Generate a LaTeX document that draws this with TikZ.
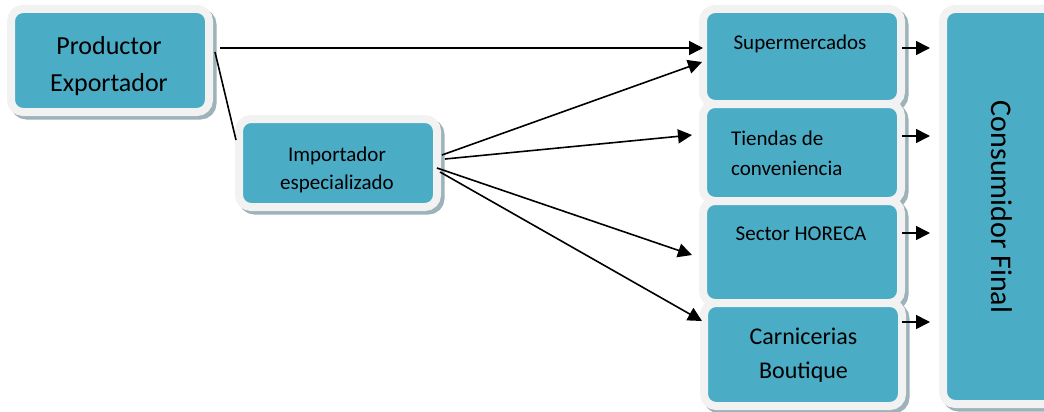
\documentclass[tikz,border=0pt]{standalone}
\usepackage{fontspec}
\setmainfont{Carlito}
\usetikzlibrary{arrows.meta}
\definecolor{teal}{HTML}{4BACC6}
\definecolor{rim}{HTML}{F2F2F2}
\definecolor{shade}{HTML}{9DB2B9}
\tikzset{
  box/.style={draw=rim, line width=8pt, fill=teal, rounded corners=12pt,
    preaction={draw=shade, fill=shade, line width=8pt, transform canvas={xshift=3.5pt,yshift=-3.5pt}}},
  conn/.style={line width=1.6pt, -{Triangle[length=14pt,width=14pt]}},
  plain/.style={line width=1.6pt},
  txt/.style={inner sep=0pt, text=black}
}
\begin{document}
\begin{tikzpicture}[x=1pt,y=-1pt]
\useasboundingbox (0,0) rectangle (1044,412);
\clip (0,0) rectangle (1044,412);
% boxes
\path[box] (11,9) rectangle (209,112);
\path[box] (239,119) rectangle (437,207);
\path[box] (943,9) rectangle (1070,404);
\path[box] (703,9) rectangle (901,104);
\path[box] (703,104) rectangle (901,201);
\path[box] (703,201) rectangle (901,303);
\path[box] (704,303) rectangle (902,406);
% text
\node[txt, align=center, font=\fontsize{26}{37}\selectfont] (prod) at (109,66) {Productor\\Exportador};
\node[txt, align=center, font=\fontsize{21}{28}\selectfont] (imp) at (337,170) {Importador\\especializado};
\node[txt, anchor=base, font=\fontsize{21}{27}\selectfont] (sup) at (800,49) {Supermercados};
\node[txt, anchor=west, align=left, font=\fontsize{21}{30}\selectfont] (tie) at (731,153) {Tiendas de\\conveniencia};
\node[txt, anchor=base, font=\fontsize{21}{27}\selectfont] (hor) at (801,240) {Sector HORECA};
\node[txt, align=center, font=\fontsize{24}{34}\selectfont] (car) at (803.5,355) {Carnicerias\\Boutique};
\node[txt, rotate=-90, font=\fontsize{30}{36}\selectfont] (con) at (1002,207) {Consumidor Final};
% connector end points
\coordinate (p1) at (220,48);
\coordinate (p2) at (215,52);
\coordinate (i0) at (236,140);
\coordinate (s1) at (703,48);
\coordinate (i1) at (442,155);
\coordinate (i2) at (445,159);
\coordinate (i3) at (437,168);
\coordinate (i4) at (440,172);
\coordinate (s2) at (702,62);
\coordinate (t1) at (692,135);
\coordinate (h1) at (692,255);
\coordinate (c1) at (702,321);
\draw[conn] (p1) -- (s1);
\draw[plain] (p2) -- (i0);
\draw[conn] (i1) -- (s2);
\draw[conn] (i2) -- (t1);
\draw[conn] (i3) -- (h1);
\draw[conn] (i4) -- (c1);
% small arrows to final consumer
\foreach \y/\n in {48/a,136/b,233/c,322/d}{
  \coordinate (o\n) at (902,\y);
  \coordinate (e\n) at (930,\y);
  \draw[conn] (o\n) -- (e\n);
}
\end{tikzpicture}
\end{document}
